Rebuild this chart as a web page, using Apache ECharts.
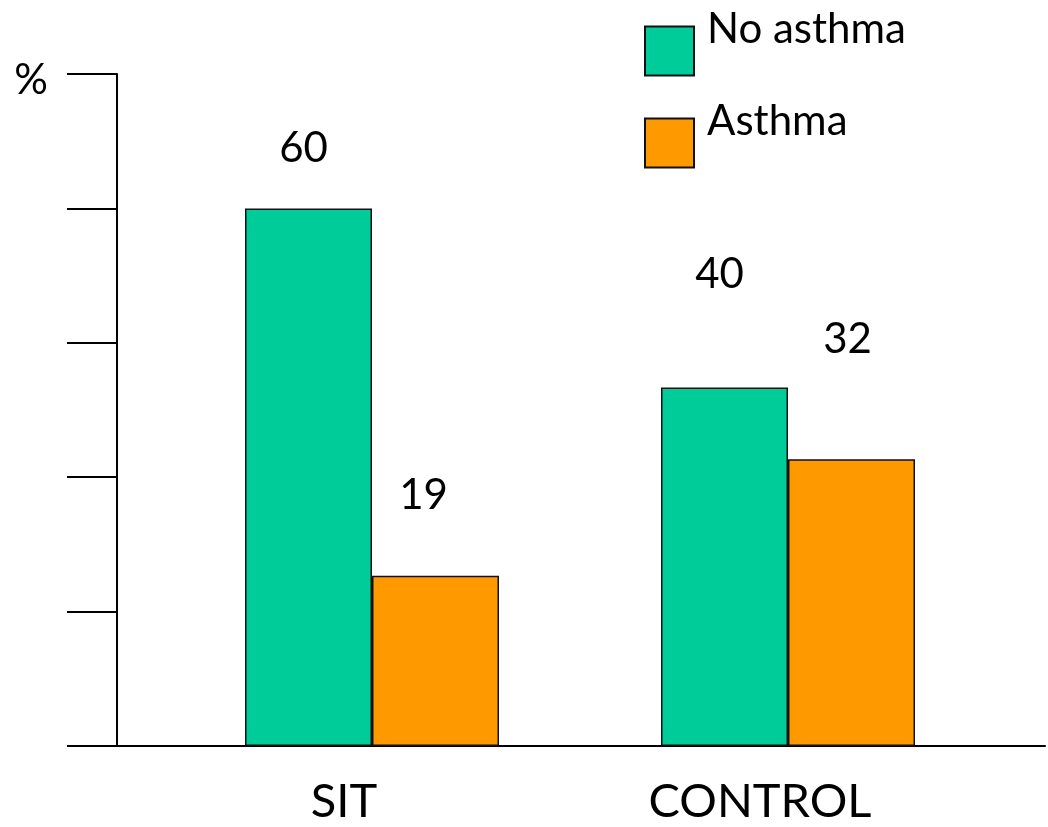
<!DOCTYPE html>
<html>
<head>
<meta charset="utf-8">
<script src="https://cdn.jsdelivr.net/npm/echarts@6/dist/echarts.min.js"></script>
<style>
  html, body { margin: 0; padding: 0; background: #fff; }
  #chart { width: 1048px; height: 827px; }
</style>
</head>
<body>
<div id="chart"></div>
<script>
const categories = ['SIT', 'CONTROL'];
const noAsthma = [60, 40];
const asthma = [19, 32];
const seriesNames = ['No asthma', 'Asthma'];

// where the value labels sit relative to the bar top (px), as in the slide
const labelNudge = {
  'No asthma': [[-5, -39], [-5, -92]],
  'Asthma': [[-12, -59], [-4, -99]]
};

const font = 'Lato, "Open Sans", sans-serif';

function makeBar(name, values, color) {
  return {
    name: name,
    type: 'bar',
    barWidth: 127,
    barGap: '0%',
    itemStyle: { color: color, borderColor: '#111', borderWidth: 1.5 },
    label: {
      show: true,
      position: 'top',
      distance: 0,
      color: '#000',
      fontFamily: font,
      fontSize: 42
    },
    data: values.map((v, i) => ({
      value: v,
      label: { offset: labelNudge[name][i] }
    }))
  };
}

const chart = echarts.init(document.getElementById('chart'));
chart.setOption({
  animation: false,
  textStyle: { fontFamily: font },
  legend: {
    orient: 'vertical',
    left: 644,
    top: 7,
    padding: 0,
    itemWidth: 49,
    itemHeight: 49,
    itemGap: 4,
    icon: 'rect',
    selectedMode: false,
    // empty second line lifts the name above the swatch centre
    formatter: name => name + '\n ',
    textStyle: {
      fontFamily: font,
      fontSize: 42,
      color: '#000',
      lineHeight: 44,
      padding: [0, 0, 0, 8]
    },
    data: seriesNames
  },
  grid: [
    { left: 164, right: 52, top: 74, bottom: 81 },
    { left: 117, right: 3, top: 74, bottom: 81 }
  ],
  xAxis: [
    {
      type: 'category',
      gridIndex: 0,
      data: categories,
      axisLine: { show: false },
      axisTick: { show: false },
      axisLabel: {
        color: '#000',
        fontFamily: font,
        fontSize: 47,
        margin: 32,
        padding: [0, 56, 0, 0]
      }
    },
    {
      type: 'value',
      gridIndex: 1,
      axisLine: { show: true, lineStyle: { color: '#000', width: 2 } },
      axisTick: { show: false },
      axisLabel: { show: false },
      splitLine: { show: false }
    }
  ],
  yAxis: [
    {
      type: 'value',
      gridIndex: 0,
      min: 0,
      max: 75,
      interval: 15,
      offset: 47,
      name: '%',
      nameLocation: 'end',
      nameGap: -6,
      nameTextStyle: {
        color: '#000',
        fontFamily: font,
        fontSize: 42,
        align: 'right',
        verticalAlign: 'middle',
        padding: [0, 69, 0, 0]
      },
      axisLine: { show: true, lineStyle: { color: '#000', width: 2 } },
      axisTick: { show: true, inside: false, length: 50, lineStyle: { color: '#000', width: 2 } },
      axisLabel: { show: false },
      splitLine: { show: false }
    },
    {
      type: 'value',
      gridIndex: 1,
      show: false
    }
  ],
  series: [
    makeBar(seriesNames[0], noAsthma, '#00CC99'),
    makeBar(seriesNames[1], asthma, '#FF9900')
  ]
});
</script>
</body>
</html>
